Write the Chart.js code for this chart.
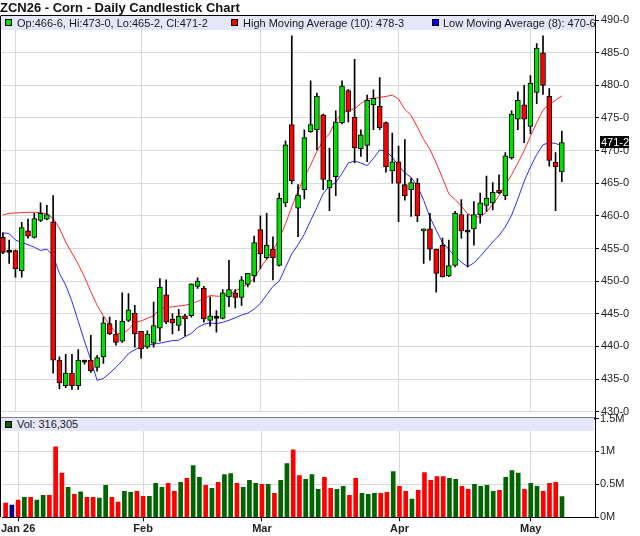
<!DOCTYPE html>
<html>
<head>
<meta charset="utf-8">
<script src="https://cdn.jsdelivr.net/npm/chart.js@4.4.1/dist/chart.umd.min.js"></script>
<style>
  body { margin: 0; background: #fff; font-family: "Liberation Sans", Arial, sans-serif; }
  #wrap { position: relative; width: 640px; height: 536px; overflow: hidden; }
  canvas { position: absolute; left: 0; }
  #price { top: 0; }
  #volume { top: 412px; }
  #title { position: absolute; left: 0; top: 0; font-size: 13px; font-weight: bold; line-height: 15px; color: #111; z-index: 5; }
  .band { position: absolute; left: 1px; width: 593px; background: #e6e6fa; font-size: 11px; color: #1a1a1a; z-index: 5; }
  #legend { top: 15px; height: 14px; border-top: 1px solid #000; }
  #volhead { top: 418px; height: 13px; }
  .item { position: absolute; top: 0; line-height: 14px; white-space: nowrap; }
  .sq { position: absolute; width: 5px; height: 5px; border: 1px solid #000; }
</style>
</head>
<body>
<div id="wrap">
  <canvas id="price" width="640" height="420"></canvas>
  <canvas id="volume" width="640" height="124"></canvas>
  <div id="title">ZCN26 - Corn - Daily Candlestick Chart</div>
  <div id="legend" class="band">
    <span class="sq" style="left:4px;top:3px;background:#00e000"></span>
    <span class="item" id="ohlcText" style="left:16px"></span>
    <span class="sq" style="left:230px;top:3px;background:#ff0000"></span>
    <span class="item" id="hmaText" style="left:242px"></span>
    <span class="sq" style="left:431px;top:3px;background:#0000ff"></span>
    <span class="item" id="lmaText" style="left:442px"></span>
  </div>
  <div id="volhead" class="band">
    <span class="sq" style="left:4px;top:3px;background:#006400"></span>
    <span class="item" id="volText" style="left:16px;line-height:13px"></span>
  </div>
</div>
<script>
// daily candles, Dec 30 2025 .. May 8 2026
const opens = [
  456.7, 454.4, 454.7, 451.6, 457.7, 456.7, 459.3, 459.5, 459.1, 437.9,
  434.0, 435.9, 434.0, 437.6, 437.9, 436.8, 438.4, 443.5, 441.9, 440.8,
  444.0, 445.1, 442.3, 439.9, 440.5, 442.8, 447.9, 444.2, 443.2, 444.7,
  444.7, 449.2, 448.9, 444.0, 444.3, 444.3, 447.6, 448.2, 447.5, 449.5,
  450.8, 457.9, 453.6, 454.9, 452.4, 462.0, 474.0, 461.2, 464.0, 472.9,
  473.2, 475.5, 464.3, 466.0, 474.3, 479.2, 475.1, 470.3, 470.8, 477.0,
  476.8, 474.3, 466.9, 468.3, 464.8, 464.0, 465.0, 457.7, 458.0, 454.9,
  455.5, 450.8, 452.4, 460.2, 457.5, 458.0, 460.2, 461.6, 462.0, 463.9,
  463.1, 468.9, 474.8, 477.0, 473.7, 478.9, 485.0, 478.3, 468.2, 466.75
];
const highs = [
  457.4, 456.3, 454.8, 459.0, 459.5, 460.4, 462.0, 461.6, 463.1, 438.4,
  438.8, 438.8, 439.5, 437.9, 441.7, 438.6, 444.5, 444.5, 444.0, 448.2,
  448.1, 446.3, 442.3, 442.4, 446.8, 450.4, 450.2, 445.0, 445.7, 444.9,
  449.6, 450.5, 449.2, 447.6, 445.5, 448.7, 453.2, 448.7, 450.7, 451.2,
  456.9, 460.0, 460.4, 456.8, 463.5, 471.5, 487.6, 464.8, 473.2, 480.7,
  478.8, 475.6, 470.4, 476.1, 480.7, 479.4, 484.0, 473.2, 478.5, 479.3,
  481.2, 474.4, 472.7, 470.7, 471.7, 465.8, 465.7, 458.0, 460.4, 454.9,
  456.6, 456.3, 460.7, 462.5, 460.2, 462.2, 463.5, 466.1, 465.1, 466.3,
  469.7, 476.1, 479.0, 480.0, 481.5, 486.4, 487.6, 479.5, 469.7, 473.0
];
const lows = [
  454.2, 452.7, 450.6, 450.6, 456.6, 456.6, 459.1, 459.4, 435.9, 433.5,
  433.7, 433.4, 433.4, 437.3, 436.0, 436.2, 437.4, 441.8, 440.2, 440.6,
  443.8, 439.9, 438.2, 439.7, 439.9, 440.8, 443.5, 441.9, 442.4, 441.6,
  444.5, 448.9, 443.7, 443.1, 442.2, 444.2, 446.1, 445.9, 446.3, 449.1,
  449.9, 451.9, 453.4, 450.2, 452.3, 461.4, 464.9, 456.8, 462.6, 472.8,
  470.1, 464.0, 460.8, 463.1, 474.1, 474.4, 468.1, 469.1, 468.3, 473.2,
  473.2, 466.7, 465.0, 459.1, 462.4, 459.9, 459.1, 452.7, 453.2, 448.3,
  450.6, 450.7, 452.2, 456.6, 452.2, 455.5, 458.9, 460.7, 460.9, 463.4,
  462.5, 468.7, 473.2, 471.2, 472.6, 477.2, 478.6, 467.6, 460.8, 465.25
];
const closes = [
  454.4, 454.4, 451.9, 458.2, 456.9, 459.6, 460.4, 460.2, 437.9, 434.4,
  435.9, 434.0, 437.9, 437.6, 436.3, 438.3, 443.6, 441.9, 440.6, 443.9,
  445.6, 441.9, 439.6, 441.9, 443.2, 449.1, 443.7, 443.6, 444.6, 444.2,
  449.6, 450.0, 444.2, 444.7, 444.3, 448.2, 448.7, 447.5, 450.2, 451.2,
  455.9, 454.2, 455.5, 453.6, 462.7, 470.9, 465.4, 463.2, 472.0, 474.0,
  478.3, 465.6, 465.5, 474.4, 479.9, 476.0, 470.4, 472.4, 477.7, 478.0,
  473.5, 467.5, 468.3, 465.0, 463.1, 465.1, 460.0, 458.0, 454.9, 451.2,
  450.7, 452.4, 460.4, 457.7, 457.5, 460.2, 462.0, 462.7, 463.6, 463.5,
  469.2, 475.6, 477.7, 474.8, 480.3, 485.7, 480.0, 468.5, 467.5, 471.25
];
const volumes = [
  215000, 185000, 260000, 305000, 305000, 260000, 335000, 335000, 1070000, 670000,
  455000, 350000, 385000, 305000, 305000, 290000, 485000, 305000, 230000, 395000,
  380000, 395000, 320000, 320000, 515000, 455000, 515000, 395000, 530000, 590000,
  785000, 605000, 485000, 440000, 530000, 650000, 665000, 515000, 455000, 560000,
  515000, 500000, 500000, 365000, 560000, 815000, 1025000, 635000, 575000, 650000,
  425000, 605000, 440000, 425000, 470000, 335000, 590000, 365000, 350000, 365000,
  365000, 380000, 695000, 470000, 395000, 275000, 410000, 680000, 560000, 620000,
  620000, 590000, 575000, 470000, 425000, 500000, 470000, 485000, 395000, 410000,
  605000, 710000, 670000, 425000, 515000, 470000, 395000, 515000, 530000, 316305
];
// moving averages as drawn on the chart
const highMA = [
  460.15, 460.4, 460.45, 460.5, 460.55, 460.55, 460.5, 460.3, 459.6, 458.1,
  456.0, 454.3, 452.6, 450.6, 448.4, 446.3, 444.7, 443.3, 442.1, 441.9,
  442.6, 443.7, 443.9, 444.3, 444.7, 445.8, 446.0, 446.05, 446.2, 446.3,
  446.55, 446.9, 447.3, 447.8, 447.7, 447.7, 448.0, 448.5, 449.0, 449.6,
  450.4, 452.0, 453.4, 454.7, 456.45, 458.8, 461.4, 463.8, 465.9, 467.8,
  469.9, 471.5, 472.6, 474.6, 475.6, 476.2, 476.4, 477.2, 477.9, 478.0,
  478.15, 478.3, 478.5, 477.9, 476.3, 475.4, 473.6, 471.7, 470.2, 468.1,
  465.8, 463.4, 462.5, 461.5, 460.3, 459.9, 459.8, 460.6, 461.8, 463.1,
  464.7, 466.3, 468.1, 470.0, 472.2, 474.3, 476.2, 477.1, 477.7, 478.4
];
const lowMA = [
  457.4, 457.3, 456.3, 455.9, 455.6, 455.2, 454.7, 454.9, 453.9, 451.2,
  449.4, 446.9, 443.85, 440.8, 437.9, 434.8, 435.1, 435.9, 436.8, 437.8,
  438.9, 439.5, 439.9, 440.2, 440.35, 440.5, 440.7, 440.9, 440.95, 441.5,
  442.0, 442.9, 443.4, 443.6, 443.5, 443.7, 444.0, 444.4, 444.8, 445.1,
  445.7, 446.6, 447.9, 449.2, 450.0, 452.1, 454.2, 455.6, 457.2, 459.3,
  461.3, 463.4, 464.6, 465.1, 466.5, 468.1, 468.4, 468.1, 467.7, 468.8,
  470.1, 469.9, 469.0, 467.7, 466.6, 465.9, 464.6, 462.4, 459.8, 457.8,
  455.9, 454.9, 453.8, 452.9, 452.2, 452.8, 453.8, 454.9, 456.0, 457.0,
  458.3, 460.1, 462.6, 465.3, 467.5, 469.4, 470.9, 471.2, 471.1, 470.75
];
const monthTicks = [2, 22, 41, 63, 84];
const monthLabels = ["Jan 26", "Feb", "Mar", "Apr", "May"];
const priceTicks = [430, 435, 440, 445, 450, 455, 460, 465, 470, 475, 480, 485, 490];
const volTicks = [0, 500000, 1000000, 1500000];
const volLabels = ["0M", "0.5M", "1M", "1.5M"];

const GREEN = "#00e000", RED = "#ff0000", GRID = "#d9d9d9";
const FONT = "'Liberation Sans', Arial, sans-serif";
const xMin = -0.46, xMax = 94.28;
const last = closes.length - 1;

// corn prices in eighths: 466.75 -> "466-6"
function fmt8(p) {
  const e = Math.round(p * 8);
  return Math.floor(e / 8) + "-" + (e % 8);
}

document.getElementById("ohlcText").textContent =
  `Op:${fmt8(opens[last])}, Hi:${fmt8(highs[last])}, Lo:${fmt8(lows[last])}, Cl:${fmt8(closes[last])}`;
document.getElementById("hmaText").textContent = `High Moving Average (10): ${fmt8(highMA[last])}`;
document.getElementById("lmaText").textContent = `Low Moving Average (8): ${fmt8(lowMA[last])}`;
document.getElementById("volText").textContent = `Vol: ${volumes[last].toLocaleString("en-US")}`;

const bodyColors = closes.map((c, i) => c > opens[i] ? GREEN : c < opens[i] ? RED : "#000");
const volColors = closes.map((c, i) => {
  if (i === 0) return RED;
  return c > closes[i - 1] ? "#006400" : c < closes[i - 1] ? RED : "#000080";
});

const priceFrame = {
  id: "priceFrame",
  afterDraw(chart) {
    const { ctx, chartArea: a } = chart;
    ctx.save();
    ctx.strokeStyle = "#000";
    ctx.lineWidth = 1;
    ctx.beginPath();
    ctx.moveTo(0.5, a.top);
    ctx.lineTo(0.5, chart.height);
    ctx.moveTo(Math.round(a.right) + 0.5, a.bottom);
    ctx.lineTo(Math.round(a.right) + 0.5, chart.height);
    ctx.stroke();
    // last price tag on the axis
    const y = chart.scales.y.getPixelForValue(closes[last]);
    ctx.fillStyle = "#000";
    ctx.fillRect(a.right + 5, Math.round(y) - 6, 29, 12);
    ctx.fillStyle = "#fff";
    ctx.font = "11px " + FONT;
    ctx.textBaseline = "middle";
    ctx.fillText(fmt8(closes[last]), a.right + 6, Math.round(y) + 0.5);
    ctx.restore();
  }
};

new Chart(document.getElementById("price"), {
  type: "bar",
  data: {
    datasets: [
      {
        type: "line",
        data: highMA.map((v, i) => ({ x: i, y: v })),
        borderColor: "#ff2a2a",
        borderWidth: 1,
        pointRadius: 0,
        order: 3
      },
      {
        type: "line",
        data: lowMA.map((v, i) => ({ x: i, y: v })),
        borderColor: "#2a2aff",
        borderWidth: 1,
        pointRadius: 0,
        order: 3
      },
      {
        data: lows.map((l, i) => ({ x: i, y: [l, highs[i]] })),
        backgroundColor: "#000",
        barThickness: 1,
        grouped: false,
        order: 2
      },
      {
        data: opens.map((o, i) => ({ x: i, y: [o, closes[i]] })),
        backgroundColor: bodyColors,
        borderColor: "#000",
        borderWidth: 1,
        borderSkipped: false,
        barThickness: 5,
        minBarLength: 2,
        grouped: false,
        order: 1
      }
    ]
  },
  options: {
    responsive: false,
    animation: false,
    layout: { padding: { top: 15.7, bottom: 8.3, left: 0, right: 0 } },
    plugins: { legend: { display: false }, tooltip: { enabled: false } },
    scales: {
      x: {
        type: "linear",
        min: xMin,
        max: xMax,
        offset: false,
        grid: { color: GRID, drawTicks: false, offset: false },
        border: { display: false },
        ticks: { display: false },
        afterBuildTicks: s => { s.ticks = monthTicks.map(v => ({ value: v })); },
        afterFit: s => { s.height = 0; }
      },
      y: {
        position: "right",
        min: 430,
        max: 490.67,
        grid: { color: GRID, tickLength: 4, tickColor: "#000" },
        border: { display: true, color: "#000" },
        ticks: {
          font: { size: 11, family: FONT, lineHeight: 1 },
          color: "#222",
          padding: 2,
          callback: v => fmt8(v)
        },
        afterBuildTicks: s => { s.ticks = priceTicks.map(v => ({ value: v })); },
        afterFit: s => { s.width = 45; }
      }
    }
  },
  plugins: [priceFrame]
});

const volFrame = {
  id: "volFrame",
  afterDraw(chart) {
    const { ctx, chartArea: a } = chart;
    ctx.save();
    ctx.strokeStyle = "#000";
    ctx.lineWidth = 1;
    ctx.beginPath();
    ctx.moveTo(0.5, 0);
    ctx.lineTo(0.5, a.bottom);
    ctx.moveTo(Math.round(a.right) + 0.5, 0);
    ctx.lineTo(Math.round(a.right) + 0.5, a.top);
    ctx.stroke();
    ctx.lineWidth = 2;
    ctx.beginPath();
    ctx.moveTo(0, a.top);
    ctx.lineTo(a.right, a.top);
    ctx.stroke();
    ctx.restore();
  }
};

new Chart(document.getElementById("volume"), {
  type: "bar",
  data: {
    datasets: [{
      data: volumes.map((v, i) => ({ x: i, y: v })),
      backgroundColor: volColors,
      barThickness: 4,
      grouped: false
    }]
  },
  options: {
    responsive: false,
    animation: false,
    layout: { padding: { top: 5.5, bottom: 0, left: 0, right: 0 } },
    plugins: { legend: { display: false }, tooltip: { enabled: false } },
    scales: {
      x: {
        type: "linear",
        min: xMin,
        max: xMax,
        offset: false,
        grid: { color: GRID, tickLength: 4, tickColor: "#000", offset: false },
        border: { display: true, color: "#000" },
        ticks: {
          font: { size: 11, weight: "bold", family: FONT },
          color: "#222",
          padding: 1,
          maxRotation: 0,
          autoSkip: false,
          callback: (v, i) => monthLabels[i]
        },
        afterBuildTicks: s => { s.ticks = monthTicks.map(v => ({ value: v })); },
        afterFit: s => { s.height = 18.7; }
      },
      y: {
        position: "right",
        min: 0,
        max: 1500000,
        grid: { color: GRID, tickLength: 4, tickColor: "#000" },
        border: { display: true, color: "#000" },
        ticks: {
          font: { size: 11, family: FONT, lineHeight: 1 },
          color: "#222",
          padding: 1,
          callback: (v, i) => volLabels[i]
        },
        afterBuildTicks: s => { s.ticks = volTicks.map(v => ({ value: v })); },
        afterFit: s => { s.width = 45; }
      }
    }
  },
  plugins: [volFrame]
});
</script>
</body>
</html>
